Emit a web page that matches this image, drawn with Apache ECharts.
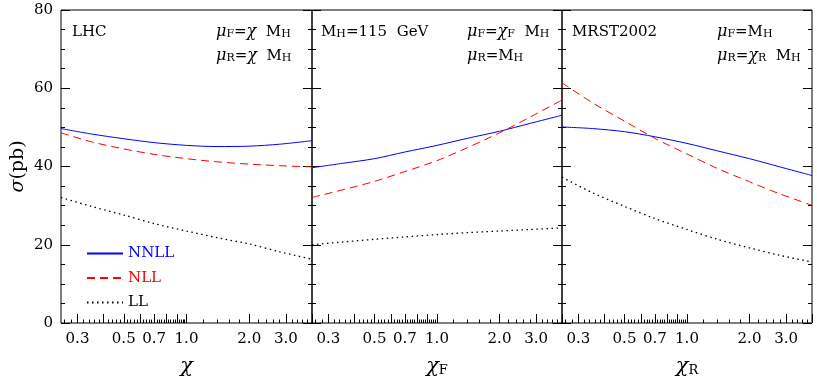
<!DOCTYPE html>
<html><head><meta charset="utf-8">
<script src="https://cdn.jsdelivr.net/npm/echarts@6/dist/echarts.min.js"></script>
<style>html,body{margin:0;padding:0;background:#fff}#c{width:817px;height:383px}</style>
</head><body><div id="c"></div>
<script>
// ---- data ----
const chiValues = [0.25, 0.35, 0.5, 0.7, 1.0, 1.4, 2.0, 2.8, 4.0];
const lhcNNLL = [49.7, 48.3, 47.1, 46.1, 45.4, 45.1, 45.2, 45.7, 46.6];
const lhcNLL  = [48.6, 46.3, 44.5, 43.1, 42.0, 41.2, 40.6, 40.2, 39.9];
const lhcLL   = [32.1, 29.8, 27.6, 25.4, 23.5, 21.8, 20.2, 18.2, 16.3];
const facNNLL = [39.7, 40.8, 42.0, 43.7, 45.4, 47.2, 49.0, 51.0, 53.1];
const facNLL  = [32.1, 34.0, 36.2, 38.7, 41.5, 44.8, 48.6, 52.6, 57.0];
const facLL   = [20.0, 20.7, 21.4, 22.0, 22.6, 23.1, 23.5, 23.9, 24.3];
const renNNLL = [50.1, 49.7, 48.9, 47.6, 45.9, 44.0, 42.0, 39.9, 37.7];
const renNLL  = [61.4, 56.3, 51.6, 47.2, 43.2, 39.5, 36.1, 33.0, 30.1];
const renLL   = [37.3, 33.3, 29.8, 26.7, 23.9, 21.4, 19.2, 17.3, 15.6];
const seriesNames = ['NNLL', 'NLL', 'LL'];
const xTickLabels = [0.3, 0.5, 0.7, 1.0, 2.0, 3.0];
const xMajorTicks = [0.3, 0.4, 0.5, 0.6, 0.7, 0.8, 0.9, 1.0, 2.0, 3.0, 4.0];
const xMinorTicks = [0.26, 0.28, 0.32, 0.34, 0.36, 0.38, 0.42, 0.44, 0.46, 0.48,
  0.52, 0.54, 0.56, 0.58, 0.62, 0.64, 0.66, 0.68, 0.72, 0.74, 0.76, 0.78,
  0.82, 0.84, 0.86, 0.88, 0.92, 0.94, 0.96, 0.98, 1.2, 1.4, 1.6, 1.8,
  2.2, 2.4, 2.6, 2.8, 3.2, 3.4, 3.6, 3.8];
const xMin = 0.25, xMax = 4.0;
const yMin = 0, yMax = 80, yStep = 20;
const panelData = [[lhcNNLL, lhcNLL, lhcLL], [facNNLL, facNLL, facLL], [renNNLL, renNLL, renLL]];

// ---- style ----
const FONT = 'DejaVu Serif';
const colors = ['#0000ff', '#ff0000', '#000000'];
const dashes = ['solid', [8, 5], [1.5, 3.5]];
const L10 = Math.log10;
const gridLefts = [61, 312, 562];
const gridWidths = [251, 250, 250];

const rich = {
  t: {fontFamily: FONT, fontSize: 15, color: '#000', lineHeight: 18, verticalAlign: 'bottom'},
  i: {fontFamily: FONT, fontStyle: 'italic', fontSize: 16, color: '#000', lineHeight: 18, verticalAlign: 'bottom'},
  s: {fontFamily: FONT, fontSize: 11, color: '#000', lineHeight: 7, verticalAlign: 'bottom'},
  n: {fontFamily: FONT, fontStyle: 'italic', fontSize: 21, color: '#000', lineHeight: 22, verticalAlign: 'bottom'},
  ns: {fontFamily: FONT, fontSize: 13, color: '#000', lineHeight: 8, verticalAlign: 'bottom'},
  y: {fontFamily: FONT, fontSize: 19, color: '#000'},
  yi: {fontFamily: FONT, fontStyle: 'italic', fontSize: 19, color: '#000'}
};

const xNames = ['{n|χ}', '{n|χ}{ns|F}', '{n|χ}{ns|R}'];
const grids = [], xAxes = [], yAxes = [], series = [];
for (let p = 0; p < 3; p++) {
  grids.push({left: gridLefts[p], width: gridWidths[p], top: 10, bottom: 60,
    show: true, borderColor: '#000', borderWidth: 1, backgroundColor: 'transparent',
    outerBoundsMode: 'none', containLabel: false});
  xAxes.push({gridIndex: p, type: 'value', position: 'bottom', min: L10(xMin), max: L10(xMax),
    axisLine: {show: false, onZero: false}, splitLine: {show: false},
    axisTick: {show: true, inside: true, length: 9, customValues: xMajorTicks.map(L10), lineStyle: {color: '#000'}},
    axisLabel: {show: true, customValues: xTickLabels.map(L10), margin: 9,
      formatter: v => Math.pow(10, v).toFixed(1),
      fontFamily: FONT, fontSize: 15, color: '#000'},
    name: xNames[p], nameLocation: 'middle', nameGap: 32,
    nameTextStyle: {rich: rich}});
  xAxes.push({gridIndex: p, type: 'value', position: 'bottom', min: L10(xMin), max: L10(xMax),
    axisLine: {show: false, onZero: false}, splitLine: {show: false}, axisLabel: {show: false},
    axisTick: {show: true, inside: true, length: 3.5, customValues: xMinorTicks.map(L10), lineStyle: {color: '#000'}}});
  for (const pos of ['left', 'right']) {
    const showLab = (p === 0 && pos === 'left');
    const ya = {gridIndex: p, type: 'value', position: pos, min: yMin, max: yMax, interval: yStep,
      axisLine: {show: false, onZero: false}, splitLine: {show: false},
      axisTick: {show: true, inside: true, length: 9, lineStyle: {color: '#000'}},
      minorTick: {show: true, splitNumber: 4, length: 4, lineStyle: {color: '#000'}},
      axisLabel: {show: showLab, margin: 8, fontFamily: FONT, fontSize: 15, color: '#000'}};
    if (showLab) {
      ya.name = '{yi|σ}{y|(pb)}';
      ya.nameLocation = 'middle';
      ya.nameGap = 33;
      ya.nameTextStyle = {rich: rich};
    }
    yAxes.push(ya);
  }
  for (let s = 0; s < 3; s++) {
    series.push({type: 'line', name: seriesNames[s], xAxisIndex: p * 2, yAxisIndex: p * 2,
      symbol: 'none', smooth: 0.3, silent: true, animation: false,
      lineStyle: {color: colors[s], width: s === 2 ? 1.3 : 1, type: dashes[s]},
      itemStyle: {color: colors[s]},
      data: chiValues.map((c, j) => [L10(c), panelData[p][s][j]])});
  }
}

function label(x, y, text) {
  return {type: 'text', x: x, y: y, style: {text: text, rich: rich, verticalAlign: 'middle', align: 'left'}, silent: true};
}

const chart = echarts.init(document.getElementById('c'), null, {renderer: 'canvas'});
chart.setOption({
  animation: false,
  backgroundColor: '#fff',
  grid: grids, xAxis: xAxes, yAxis: yAxes, series: series,
  legend: {left: 86, top: 246, orient: 'vertical', itemWidth: 36, itemHeight: 14, itemGap: 9.5,
    padding: 0, selectedMode: false,
    itemStyle: {opacity: 0},
    textStyle: {fontFamily: FONT, fontSize: 15, lineHeight: 14},
    data: seriesNames.map((n, i) => ({name: n, textStyle: {color: colors[i]}}))},
  graphic: [
    label(72, 30.5, '{t|LHC}'),
    label(216, 30.5, '{i|μ}{s|F}{t|=}{i|χ}{t|  M}{s|H}'),
    label(216, 55, '{i|μ}{s|R}{t|=}{i|χ}{t|  M}{s|H}'),
    label(321, 30.5, '{t|M}{s|H}{t|=115  GeV}'),
    label(467, 30.5, '{i|μ}{s|F}{t|=}{i|χ}{s|F}{t|  M}{s|H}'),
    label(467, 55, '{i|μ}{s|R}{t|=M}{s|H}'),
    label(572, 30.5, '{t|MRST2002}'),
    label(717, 30.5, '{i|μ}{s|F}{t|=M}{s|H}'),
    label(717, 55, '{i|μ}{s|R}{t|=}{i|χ}{s|R}{t|  M}{s|H}')
  ]
});
</script>
</body></html>
